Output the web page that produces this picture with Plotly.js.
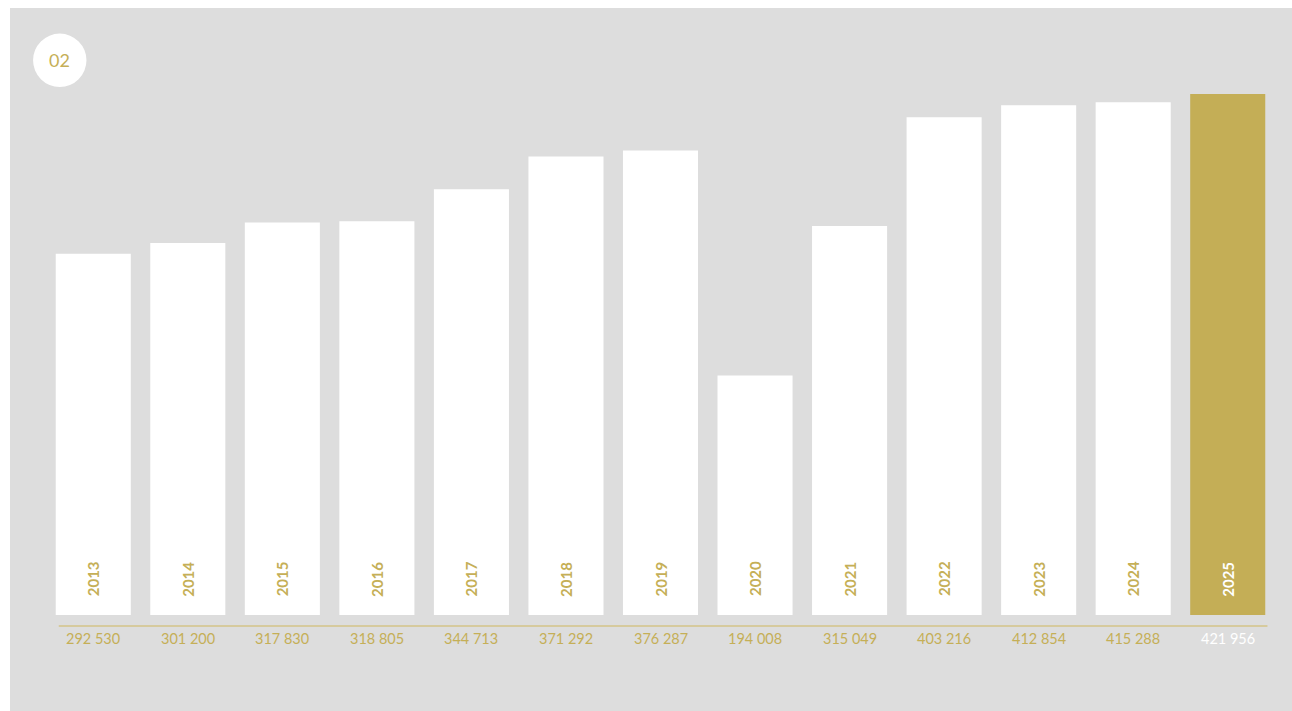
<!DOCTYPE html>
<html>
<head>
<meta charset="utf-8">
<script src="https://cdn.plot.ly/plotly-3.0.1.min.js"></script>
<style>
html, body { margin: 0; padding: 0; background: #ffffff; width: 1292px; height: 711px; overflow: hidden; }
#chart { position: absolute; left: 10px; top: 8px; width: 1282px; height: 703px; }
</style>
</head>
<body>
<div id="chart"></div>
<script>
const years = [2013, 2014, 2015, 2016, 2017, 2018, 2019, 2020, 2021, 2022, 2023, 2024, 2025];
const values = [292530, 301200, 317830, 318805, 344713, 371292, 376287, 194008, 315049, 403216, 412854, 415288, 421956];
const valueLabels = ['292 530','301 200','317 830','318 805','344 713','371 292','376 287','194 008','315 049','403 216','412 854','415 288','421 956'];
const badgeText = '02';

const GOLD = '#c4ae56';
const GOLD_TEXT = '#c5af57';
const GRAY = '#dddddd';
const last = years.length - 1;

const barColors = years.map((y, i) => i === last ? GOLD : '#ffffff');

const trace = {
  type: 'bar',
  x: years,
  y: values,
  width: 0.794,
  marker: { color: barColors, line: { width: 0 } },
  hoverinfo: 'x+y'
};

const annotations = [];
years.forEach((y, i) => {
  annotations.push({
    x: y, xref: 'x', y: 0, yref: 'y',
    text: '<b>' + String(y) + '</b>', showarrow: false, textangle: -90,
    xanchor: 'center', yanchor: 'middle', yshift: 36,
    font: { family: 'Lato, sans-serif', size: 15, color: i === last ? '#ffffff' : GOLD_TEXT }
  });
  annotations.push({
    x: y, xref: 'x', y: 0, yref: 'paper',
    text: valueLabels[i], showarrow: false,
    xanchor: 'center', yanchor: 'middle', yshift: -12,
    font: { family: 'Lato, sans-serif', size: 14.5, color: i === last ? '#ffffff' : GOLD_TEXT }
  });
});

annotations.push({
  x: 0.0112, xref: 'paper', y: 1.0633, yref: 'paper',
  text: badgeText, showarrow: false, xanchor: 'center', yanchor: 'middle',
  font: { family: 'Lato, sans-serif', size: 18, color: GOLD_TEXT }
});

const x0 = years[0], xN = years[last];

const layout = {
  width: 1282, height: 703,
  paper_bgcolor: GRAY, plot_bgcolor: GRAY,
  margin: { l: 36.25, r: 17.25, t: 86, b: 85, pad: 0 },
  showlegend: false,
  xaxis: { type: 'linear', range: [x0 - 0.5, xN + 0.5], showticklabels: false, showgrid: false, zeroline: false, showline: false, ticks: '' },
  yaxis: { range: [-8909, 421956], showticklabels: false, showgrid: false, zeroline: false, showline: false, ticks: '' },
  shapes: [
    { type: 'line', xref: 'x', yref: 'paper', x0: x0 - 0.365, x1: xN + 0.42, y0: 0, y1: 0,
      line: { color: '#d3c387', width: 1.5 } },
    { type: 'circle', xref: 'paper', yref: 'paper', x0: -0.01053, x1: 0.03293, y0: 1.0132, y1: 1.1135,
      fillcolor: '#ffffff', line: { width: 0 } }
  ],
  annotations: annotations
};

Plotly.newPlot('chart', [trace], layout, { displayModeBar: false, responsive: false });
</script>
</body>
</html>
